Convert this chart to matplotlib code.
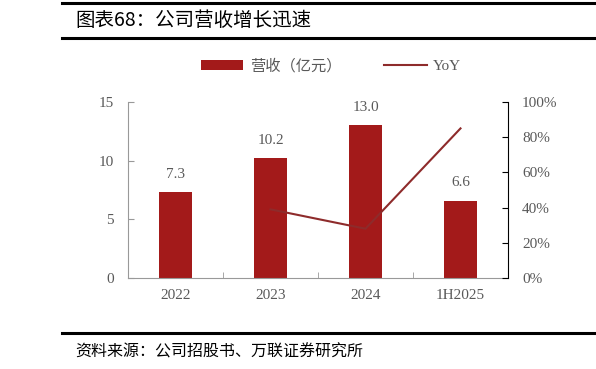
import matplotlib
matplotlib.use("Agg")
from matplotlib import pyplot as plt
import numpy as np

plt.rcParams['font.family'] = ['Liberation Serif', 'Noto Sans CJK SC', 'DejaVu Sans']

categories = ['2022', '2023', '2024', '1H2025']
revenue = [7.3, 10.2, 13.0, 6.6]
yoy_x = ['2023', '2024', '1H2025']
yoy = [39, 28, 85]

bar_color = '#A31A1A'
line_color = '#8E2B2B'
text_color = '#595959'

fig = plt.figure(figsize=(5.96, 3.69), dpi=100)
ax = fig.add_axes([128/596, 1 - 278/369, 380/596, 176/369])
ax2 = ax.twinx()

x = np.arange(len(categories))
bars = ax.bar(x, revenue, width=0.34, color=bar_color, label='营收（亿元）', zorder=2)
for xi, v in zip(x, revenue):
    ax.text(xi, v + 1.0, f'{v:.1f}', ha='center', va='bottom', fontsize=11, color=text_color)

yx = [categories.index(c) for c in yoy_x]
line, = ax2.plot(yx, yoy, color=line_color, lw=1.5, label='YoY')

ax.set_xlim(-0.5, 3.5)
ax.set_ylim(0, 15)
ax.set_yticks([0, 5, 10, 15])
ax2.set_ylim(0, 100)
ax2.set_yticks([0, 20, 40, 60, 80, 100])
ax2.set_yticklabels([f'{t}%' for t in [0, 20, 40, 60, 80, 100]])

ax.set_xticks(x)
ax.set_xticklabels(categories)
ax.set_xticks(np.arange(-0.5, 4, 1)[1:-1], minor=True)
ax.tick_params(axis='x', which='major', length=0, pad=8, labelsize=11, labelcolor=text_color)
ax.tick_params(axis='x', which='minor', length=4, direction='in', color='#999999')
ax.tick_params(axis='y', direction='in', length=4, color='#999999', labelsize=11, labelcolor=text_color, pad=10)
ax2.tick_params(axis='y', direction='in', length=4, color='#000000', labelsize=11, labelcolor=text_color, pad=10)

for s in ['top', 'right']:
    ax.spines[s].set_visible(False)
for s in ['top', 'left', 'bottom']:
    ax2.spines[s].set_visible(False)
ax.spines['left'].set_color('#999999')
ax.spines['bottom'].set_color('#999999')
ax2.spines['right'].set_color('#000000')

leg = fig.legend(handles=[bars, line], labels=['营收（亿元）', 'YoY'], loc='center',
                 bbox_to_anchor=(0.555, 1 - 66/369), ncol=2, frameon=False,
                 handlelength=2.8, handletextpad=0.4, columnspacing=2.8,
                 prop={'family': ['Liberation Serif', 'Noto Sans CJK SC'], 'size': 11})
for t in leg.get_texts():
    t.set_color(text_color)

# frame lines
fig.add_artist(plt.Line2D([62/596, 1], [1 - 3/369, 1 - 3/369], color='black', lw=2.2))
fig.add_artist(plt.Line2D([62/596, 1], [1 - 38/369, 1 - 38/369], color='black', lw=2.2))
fig.add_artist(plt.Line2D([62/596, 1], [1 - 333/369, 1 - 333/369], color='black', lw=2.2))

fig.text(75/596, 1 - 20/369, '图表68：公司营收增长迅速', fontsize=14, va='center', ha='left',
         family=['Noto Sans CJK SC'])
fig.text(75/596, 1 - 352/369, '资料来源：公司招股书、万联证券研究所', fontsize=11.5, va='center', ha='left',
         family=['Noto Sans CJK SC'], style='italic')

fig.savefig('out.png', dpi=100)
